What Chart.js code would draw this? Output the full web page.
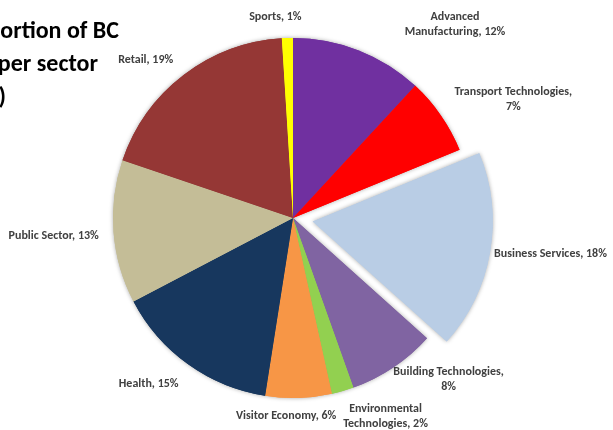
<!DOCTYPE html>
<html>
<head>
<meta charset="utf-8">
<script src="https://cdn.jsdelivr.net/npm/chart.js@4/dist/chart.umd.min.js"></script>
<style>
  html, body { margin: 0; padding: 0; background: #ffffff; }
  #wrap { width: 613px; height: 430px; position: relative; }
</style>
</head>
<body>
<div id="wrap"><canvas id="c"></canvas></div>
<script>
// ---- data ----
const categories = ['Advanced Manufacturing', 'Transport Technologies', 'Business Services',
  'Building Technologies', 'Environmental Technologies', 'Visitor Economy', 'Health',
  'Public Sector', 'Retail', 'Sports'];
const shares = [12, 7, 18, 8, 2, 6, 15, 13, 19, 1];
const labelLines = [
  ['Advanced', 'Manufacturing, 12%'],
  ['Transport Technologies,', '7%'],
  ['Business Services, 18%'],
  ['Building Technologies,', '8%'],
  ['Environmental', 'Technologies, 2%'],
  ['Visitor Economy, 6%'],
  ['Health, 15%'],
  ['Public Sector, 13%'],
  ['Retail, 19%'],
  ['Sports, 1%']
];
const titleLines = ['Proportion of BC', 'businesses per sector', '(%)'];

// ---- styling / layout ----
const colors = ['#7030A0', '#FF0000', '#B9CDE5', '#8064A2', '#92D050', '#F79646',
  '#17375E', '#C4BD97', '#953735', '#FFFF00'];
const explode = [0, 0, 20, 0, 0, 0, 0, 0, 0, 0];
// label placement: angle (deg, clockwise from top) and distance from pie centre
const labelAngle = [40, 61.8, 98, 136, 155, 182, 221, 265.7, 317, 355];
const labelDist  = [252, 250, 260, 224, 219, 198, 220, 240, 216, 202];
const FONT = "Carlito, 'Liberation Sans Narrow', 'Liberation Sans', sans-serif";

const sliceDraw = {
  id: 'sliceDraw',
  beforeDatasetDraw(chart, args) {
    const ctx = chart.ctx;
    const arcs = args.meta.data;
    const pass = (shadow) => {
      arcs.forEach((arc, i) => {
        const mid = (arc.startAngle + arc.endAngle) / 2;
        ctx.save();
        ctx.translate(Math.cos(mid) * explode[i], Math.sin(mid) * explode[i]);
        if (shadow) {
          ctx.shadowColor = 'rgba(0,0,0,0.35)';
          ctx.shadowBlur = 4;
        }
        arc.draw(ctx);
        ctx.restore();
      });
    };
    pass(true);
    pass(false);
    return false;
  },
  afterDraw(chart) {
    const ctx = chart.ctx;
    const arc0 = chart.getDatasetMeta(0).data[0];
    const cx = arc0.x, cy = arc0.y;
    ctx.save();
    ctx.fillStyle = '#404040';
    ctx.font = 'bold 12px ' + FONT;
    ctx.textAlign = 'center';
    ctx.textBaseline = 'middle';
    const lh = 15;
    labelLines.forEach((lines, i) => {
      const a = labelAngle[i] * Math.PI / 180;
      const x = cx + Math.sin(a) * labelDist[i];
      const y = cy - Math.cos(a) * labelDist[i];
      const y0 = y - (lines.length - 1) * lh / 2;
      lines.forEach((t, k) => ctx.fillText(t, x, y0 + k * lh));
    });
    // title (partly outside the visible area, as in the reference)
    ctx.fillStyle = '#000000';
    ctx.font = 'bold 24px ' + FONT;
    ctx.textAlign = 'right';
    ctx.textBaseline = 'alphabetic';
    const tx = [119, 98, 6];
    const ty = [38, 71, 104];
    titleLines.forEach((t, k) => ctx.fillText(t, tx[k], ty[k]));
    ctx.restore();
  }
};

new Chart(document.getElementById('c'), {
  type: 'pie',
  data: {
    labels: categories,
    datasets: [{
      data: shares,
      backgroundColor: colors,
      borderWidth: 0
    }]
  },
  options: {
    responsive: true,
    maintainAspectRatio: false,
    animation: false,
    radius: 180,
    layout: { padding: { left: 0, right: 27, top: 6, bottom: 0 } },
    plugins: {
      legend: { display: false },
      tooltip: { enabled: false },
      title: { display: false }
    }
  },
  plugins: [sliceDraw]
});
</script>
</body>
</html>
